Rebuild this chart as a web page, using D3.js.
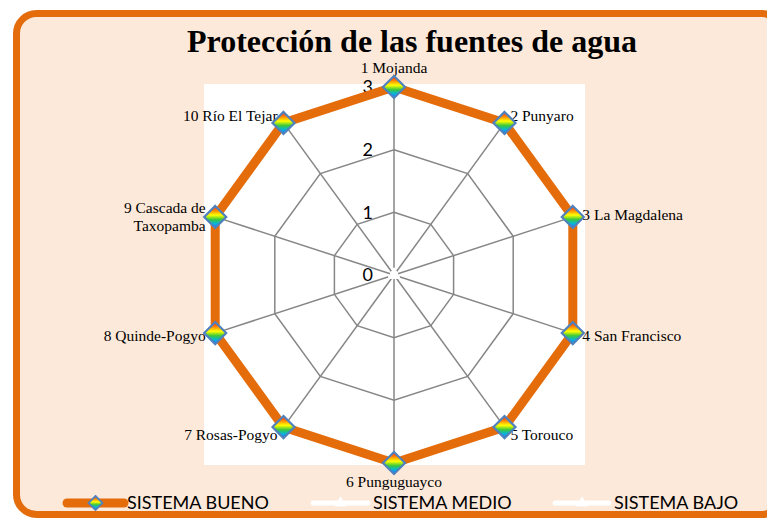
<!DOCTYPE html>
<html><head><meta charset="utf-8">
<script src="https://cdn.jsdelivr.net/npm/d3@7/dist/d3.min.js"></script>
<style>html,body{margin:0;padding:0;background:#fff;}svg{display:block;}</style>
</head><body>
<script>
const categories = ["1 Mojanda","2 Punyaro","3 La Magdalena","4 San Francisco","5 Torouco","6 Punguguayco","7 Rosas-Pogyo","8 Quinde-Pogyo","9 Cascada de\nTaxopamba","10 Río El Tejar"];
const bueno = [3,3,3,3,3,3,3,3,3,3];
const medio = [0,0,0,0,0,0,0,0,0,0];
const bajo  = [0,0,0,0,0,0,0,0,0,0];
const seriesNames = ["SISTEMA BUENO","SISTEMA MEDIO","SISTEMA BAJO"];
const tickValues = [0,1,2,3];
const title = "Protección de las fuentes de agua";

const W = 767, H = 520;
const cx = 394, cy = 275, R = 188;
const svg = d3.select("body").append("svg").attr("width", W).attr("height", H);

const defs = svg.append("defs");
const grad = defs.append("linearGradient").attr("id","rainbow").attr("x1",0).attr("y1",0).attr("x2",0).attr("y2",1);
[[0,"#ff2020"],[0.22,"#ff8c00"],[0.42,"#ffff00"],[0.62,"#3cc83c"],[0.82,"#00b4e6"],[1,"#3060ff"]]
  .forEach(([o,c]) => grad.append("stop").attr("offset",o).attr("stop-color",c));

// frame
svg.append("rect").attr("x",16.5).attr("y",13.5).attr("width",765).attr("height",501).attr("rx",20)
  .attr("fill","#FDE9D9").attr("stroke","#E46C0A").attr("stroke-width",7);
// plot area
svg.append("rect").attr("x",204).attr("y",84).attr("width",381).attr("height",381).attr("fill","#ffffff");

svg.append("text").attr("x",412).attr("y",52).attr("text-anchor","middle")
  .attr("font-family","'Liberation Serif','Times New Roman',serif").attr("font-weight","bold")
  .attr("font-size",32).attr("fill","#000").text(title);

const r = d3.scaleLinear().domain([0,3]).range([0,R]);
const ang = d3.scaleLinear().domain([0,categories.length]).range([0,2*Math.PI]);
const px = (i,v) => cx + r(v)*Math.sin(ang(i));
const py = (i,v) => cy - r(v)*Math.cos(ang(i));
const idx = d3.range(categories.length);

const g = svg.append("g");
// grid polygons
tickValues.filter(t=>t>0).forEach(t => {
  g.append("path").attr("d", d3.line()(idx.map(i=>[px(i,t),py(i,t)])) + "Z")
    .attr("fill","none").attr("stroke","#868686").attr("stroke-width",1.5);
});
// spokes
idx.forEach(i => {
  g.append("line").attr("x1",px(i,0)).attr("y1",py(i,0)).attr("x2",px(i,3)).attr("y2",py(i,3))
    .attr("stroke","#868686").attr("stroke-width",1.5);
});
// tick labels
tickValues.forEach(t => {
  g.append("text").attr("x",cx-21).attr("y",cy - r(t)).attr("dy","0.36em").attr("text-anchor","end")
    .attr("font-family","Lato,'Open Sans',sans-serif").attr("font-size",18).attr("fill","#000").text(t);
});

// white series (medio, bajo) at zero
const tri = d3.symbol().type(d3.symbolTriangle).size(70);
[bajo, medio].forEach(vals => {
  g.append("path").attr("d", d3.line()(idx.map(i=>[px(i,vals[i]),py(i,vals[i])])) + "Z")
    .attr("fill","none").attr("stroke","#ffffff").attr("stroke-width",5).attr("stroke-linejoin","round");
  idx.forEach(i => g.append("path").attr("d",tri).attr("transform",`translate(${px(i,vals[i])},${py(i,vals[i])})`).attr("fill","#fff"));
});

// bueno line
g.append("path").attr("d", d3.line()(idx.map(i=>[px(i,bueno[i]),py(i,bueno[i])])) + "Z")
  .attr("fill","none").attr("stroke","#E46C0A").attr("stroke-width",9).attr("stroke-linejoin","miter");

// category labels
idx.forEach(i => {
  const a = ang(i), s = Math.sin(a), c = Math.cos(a);
  const x0 = px(i,3), y0 = py(i,3);
  let x, y, anchor;
  if (Math.abs(s) < 0.1) { x = x0; y = y0 - 19*Math.sign(c); anchor = "middle"; }
  else { x = x0 + 10*s; y = y0 - 9*c; anchor = s > 0 ? "start" : "end"; }
  const lines = categories[i].split("\n");
  const t = g.append("text").attr("text-anchor",anchor)
    .attr("font-family","'Liberation Serif','Times New Roman',serif").attr("font-size",15.5).attr("fill","#000");
  lines.forEach((ln,k) => {
    t.append("tspan").attr("x",x).attr("y", y + 2*(lines.length-1) + (k - (lines.length-1)/2)*18).attr("dy","0.35em").text(ln);
  });
});

// diamond markers
const dia = "M0,-11L11,0L0,11L-11,0Z";
idx.forEach(i => {
  g.append("path").attr("d",dia).attr("transform",`translate(${px(i,bueno[i])},${py(i,bueno[i])})`)
    .attr("fill","url(#rainbow)").attr("stroke","#4F81BD").attr("stroke-width",2.2);
});

// legend
const leg = [
  {name: seriesNames[0], x1: 67, x2: 124, color:"#E46C0A", w: 9, marker:"diamond", tx: 127},
  {name: seriesNames[1], x1: 313, x2: 368, color:"#ffffff", w: 5, marker:"tri", tx: 373},
  {name: seriesNames[2], x1: 555, x2: 609, color:"#ffffff", w: 5, marker:"tri", tx: 614}
];
const ly = 503;
leg.forEach(d => {
  svg.append("line").attr("x1",d.x1).attr("x2",d.x2).attr("y1",ly).attr("y2",ly)
    .attr("stroke",d.color).attr("stroke-width",d.w).attr("stroke-linecap","round");
  const mx = (d.x1+d.x2)/2;
  if (d.marker === "diamond") {
    svg.append("path").attr("d","M0,-7L7,0L0,7L-7,0Z").attr("transform",`translate(${mx},${ly})`)
      .attr("fill","url(#rainbow)").attr("stroke","#4F81BD").attr("stroke-width",1.8);
  } else {
    svg.append("path").attr("d",d3.symbol().type(d3.symbolTriangle).size(60)).attr("transform",`translate(${mx},${ly})`).attr("fill","#fff");
  }
  svg.append("text").attr("x",d.tx).attr("y",ly).attr("dy","0.36em")
    .attr("font-family","Lato,'Open Sans',sans-serif").attr("font-size",18).attr("fill","#000").text(d.name);
});
</script>
</body></html>
